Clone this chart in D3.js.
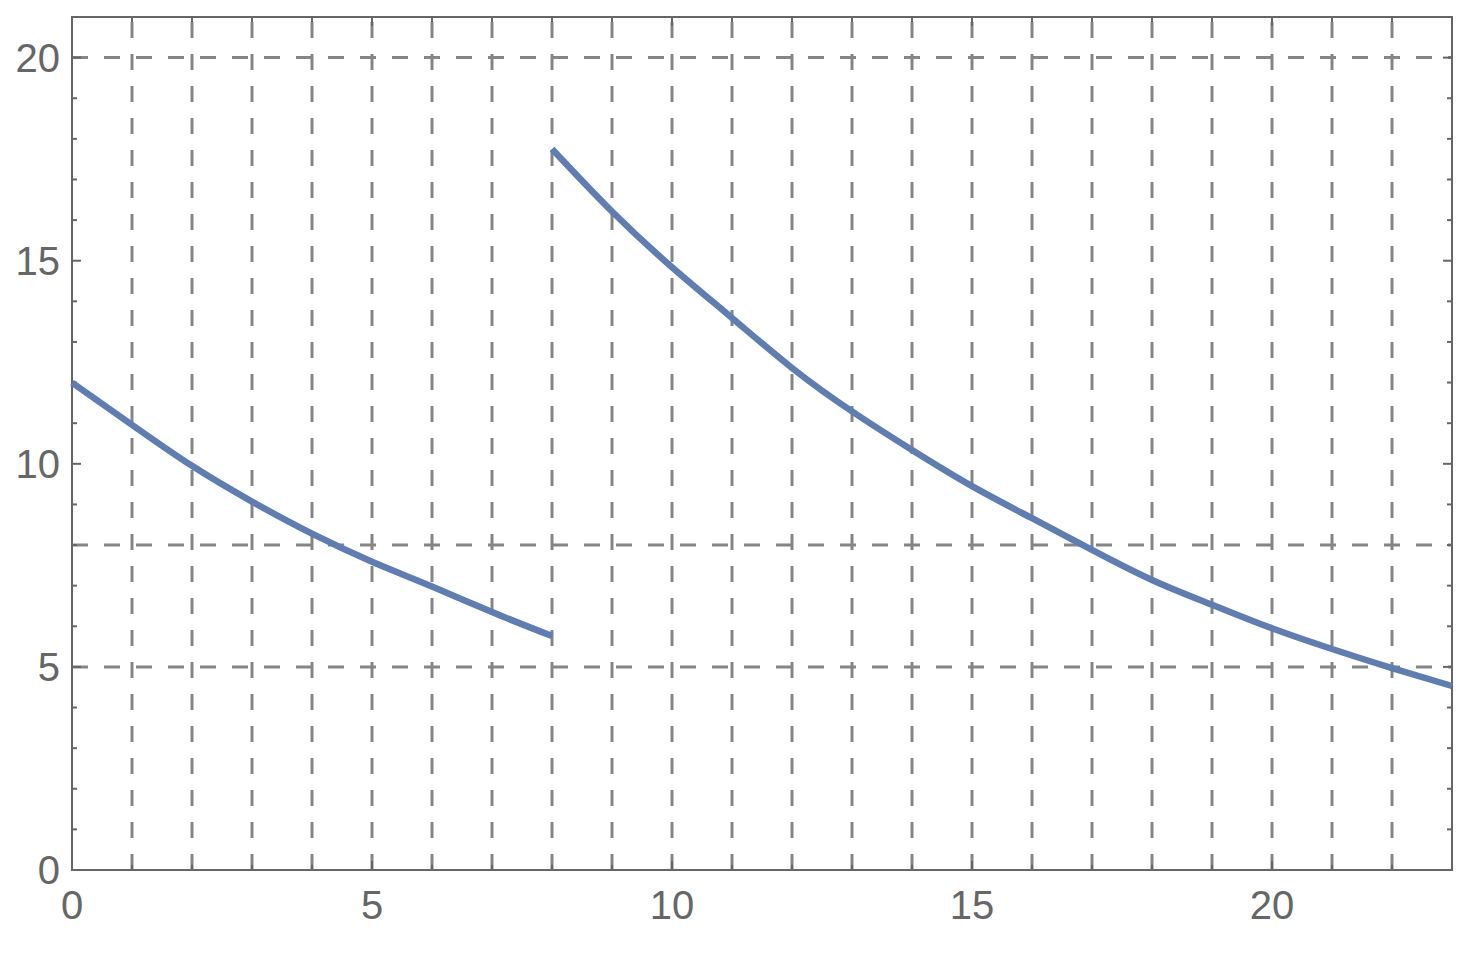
<!DOCTYPE html>
<html>
<head>
<meta charset="utf-8">
<script src="https://cdn.jsdelivr.net/npm/d3@7"></script>
<style>
  body { margin: 0; background: #fff; }
  text { font-family: "Liberation Sans", Arial, sans-serif; }
</style>
</head>
<body>
<div id="chart"></div>
<script>
// values
const timesA = [0, 1, 2, 3, 4, 5, 6, 7, 8];
const concA = [12.0, 10.96, 9.95, 9.07, 8.28, 7.59, 6.98, 6.35, 5.76];
const timesB = [8, 9, 10, 11, 12, 13, 14, 15, 16, 17, 18, 19, 20, 21, 22, 23];
const concB = [17.75, 16.21, 14.84, 13.59, 12.36, 11.29, 10.34, 9.45, 8.66, 7.88, 7.14, 6.53, 5.95, 5.44, 4.97, 4.53];
const xTicks = [0, 5, 10, 15, 20];
const yTicks = [0, 5, 10, 15, 20];
const xGrid = d3.range(1, 23);
const yGrid = [5, 8, 20];

const width = 1484;
const height = 968;
const marginTop = 17;
const marginRight = 32;
const marginBottom = 98;
const marginLeft = 72;

const svg = d3.select("#chart")
  .append("svg")
  .attr("width", width)
  .attr("height", height);

const x = d3.scaleLinear()
  .domain([0, 23])
  .range([marginLeft, width - marginRight]);

const y = d3.scaleLinear()
  .domain([0, 21])
  .range([height - marginBottom, marginTop]);

const frameColor = "#666666";
const gridColor = "#858585";

// grid lines
svg.append("g")
  .selectAll("line")
  .data(xGrid)
  .join("line")
  .attr("x1", d => x(d)).attr("x2", d => x(d))
  .attr("y1", y(21)).attr("y2", y(0))
  .attr("stroke", gridColor)
  .attr("stroke-width", 3)
  .attr("stroke-dasharray", "16,16")
  .attr("stroke-dashoffset", -5);

svg.append("g")
  .selectAll("line")
  .data(yGrid)
  .join("line")
  .attr("x1", x(0)).attr("x2", x(23))
  .attr("y1", d => y(d)).attr("y2", d => y(d))
  .attr("stroke", gridColor)
  .attr("stroke-width", 3)
  .attr("stroke-dasharray", "16,16")
  .attr("stroke-dashoffset", 0);

// ticks on all four sides of the frame
const minorX = d3.range(0, 24);
const minorY = d3.range(0, 22);
const tickG = svg.append("g").attr("stroke", frameColor).attr("stroke-width", 2);

minorX.forEach(t => {
  const len = t % 5 === 0 ? 9 : 5;
  tickG.append("line").attr("x1", x(t)).attr("x2", x(t)).attr("y1", y(0)).attr("y2", y(0) - len);
  tickG.append("line").attr("x1", x(t)).attr("x2", x(t)).attr("y1", y(21)).attr("y2", y(21) + len);
});
minorY.forEach(t => {
  const len = t % 5 === 0 ? 9 : 5;
  tickG.append("line").attr("x1", x(0)).attr("x2", x(0) + len).attr("y1", y(t)).attr("y2", y(t));
  tickG.append("line").attr("x1", x(23)).attr("x2", x(23) - len).attr("y1", y(t)).attr("y2", y(t));
});

// frame
svg.append("rect")
  .attr("x", x(0))
  .attr("y", y(21))
  .attr("width", x(23) - x(0))
  .attr("height", y(0) - y(21))
  .attr("fill", "none")
  .attr("stroke", frameColor)
  .attr("stroke-width", 2);

// tick labels
svg.selectAll(".xlab")
  .data(xTicks)
  .join("text")
  .attr("x", d => x(d))
  .attr("y", y(0) + 49)
  .attr("text-anchor", "middle")
  .attr("fill", frameColor)
  .style("font-size", "40px")
  .text(d => d);

svg.selectAll(".ylab")
  .data(yTicks)
  .join("text")
  .attr("x", x(0) - 12)
  .attr("y", d => y(d) + 14)
  .attr("text-anchor", "end")
  .attr("fill", frameColor)
  .style("font-size", "40px")
  .text(d => d);

// concentration curves
const line = d3.line()
  .x(d => x(d[0]))
  .y(d => y(d[1]))
  .curve(d3.curveNatural);

[d3.zip(timesA, concA), d3.zip(timesB, concB)].forEach(seg => {
  svg.append("path")
    .datum(seg)
    .attr("d", line)
    .attr("fill", "none")
    .attr("stroke", "#5f7db5")
    .attr("stroke-width", 6.5);
});
</script>
</body>
</html>
